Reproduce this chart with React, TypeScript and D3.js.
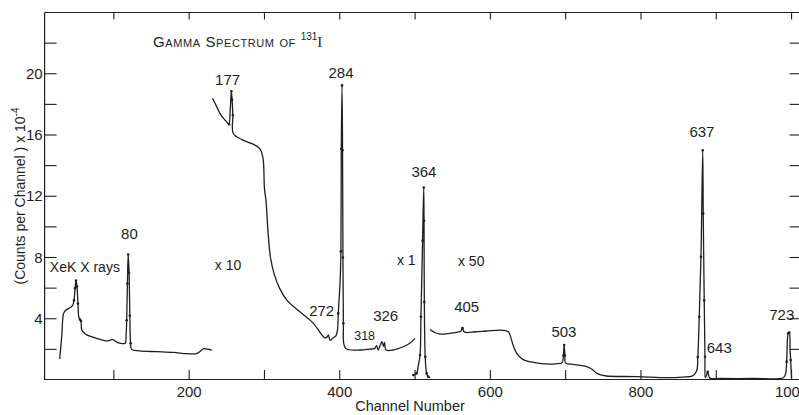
import React from 'react';
import * as d3 from 'd3';

// traced spectrum, [channel, counts x 1e-4] (each piece drawn at its own gain)
const xeKSegment: [number, number][] = [
  [28, 1.37], [31, 3.0], [33, 4.3], [36, 4.55], [41, 4.7], [45, 4.85], [47, 5.2], [48.5, 6.0],
  [49.7, 6.5], [51, 6.1], [52.3, 5.0], [53.5, 4.1], [55, 3.95], [56.3, 3.85], [57.2, 3.3], [60, 3.1],
  [64, 2.95], [72, 2.8], [81.5, 2.65], [90, 2.55], [95, 2.6], [99, 2.63], [103, 2.5], [106, 2.43],
  [112, 2.38], [115, 2.4], [116.3, 3.0], [117, 3.9], [118, 6.3], [119, 8.2], [120.2, 7.0],
  [121.2, 4.2], [122.2, 2.4], [123.6, 2.0], [134, 1.9], [157, 1.85], [179, 1.8], [197, 1.72],
  [210, 1.72], [214, 1.85], [219, 2.05], [223, 2.02], [230, 1.96],
];

const x10Segment: [number, number][] = [
  [231, 18.4], [236, 17.9], [241, 17.4], [247, 17.0], [252, 16.75], [253, 16.7], [254.5, 17.6],
  [256, 18.85], [257, 18.3], [258, 17.3], [258.6, 16.1], [270, 15.7], [285, 15.4], [294, 15.1],
  [298, 14.5], [300, 12.5], [302, 11.7], [305, 9.5], [308, 8.0], [313, 6.9], [320, 6.0],
  [330, 5.2], [347, 4.45], [365, 3.7], [380, 2.75], [383, 2.8], [385, 2.95], [387, 2.6],
  [391, 2.75], [395, 2.9], [397, 3.3], [398, 4.35], [400.5, 6.5], [401.5, 8.4], [402, 15.1],
  [403, 19.24], [403.7, 15.0], [404.2, 8.0], [404.8, 3.7], [405.6, 2.3], [409, 2.02], [427, 1.96],
  [440, 2.02], [446, 2.05], [449, 2.25], [451, 1.96], [454, 2.3], [456, 2.5], [458, 2.2],
  [459.5, 2.45], [461.5, 1.96], [471, 1.96], [484, 2.17], [493, 2.4], [500, 2.72],
];

const x1Segment: [number, number][] = [
  [497.8, 0.33], [502, 0.43], [504, 0.87], [506.6, 1.63], [507.8, 4.13], [510, 9.1],
  [511.5, 12.57], [511.9, 10.4], [512.3, 5.1], [513.5, 1.52], [515.4, 0.43], [517.5, 0.22], [520, 0.15],
];

const x50Segment: [number, number][] = [
  [520, 3.3], [526, 3.1], [533, 3.0], [546, 3.05], [558, 3.15], [561, 3.2], [563, 3.4], [565, 3.15],
  [568.5, 3.1], [580, 3.15], [595, 3.2], [612, 3.26], [620, 3.22], [624, 3.15], [627, 2.8],
  [630, 2.3], [635, 1.74], [643, 1.35], [657, 1.15], [679, 1.04], [692, 1.08], [695.5, 1.15],
  [697, 1.6], [698, 2.28], [699, 1.6], [700, 1.1], [710, 1.02], [720, 0.95], [728, 0.87],
  [735, 0.7], [741, 0.45], [748, 0.32], [754, 0.26], [794, 0.22], [838, 0.15], [860, 0.2],
  [869, 0.28], [874, 0.6], [875.5, 1.5], [877.4, 4.13], [879.7, 8.04], [882, 15.0], [882.7, 10.87],
  [884, 5.2], [885, 1.52], [885.5, 0.15], [887, 0.3], [888.6, 0.54], [890, 0.3], [891.6, 0.12],
  [905, 0.1], [950, 0.1], [989, 0.15], [992, 0.4], [993.5, 1.2], [995.6, 3.05], [997, 3.1],
  [998, 2.0], [998.8, 1.3], [1000, 0.1],
];

const segments = [xeKSegment, x10Segment, x1Segment, x50Segment];

// measured points shown as dots on the peaks
const dotPoints: [number, number][] = [
  [47, 5.2], [48.5, 6.0], [49.7, 6.5], [51, 6.1], [52.3, 5.0], [55, 3.95], [56.3, 3.85],
  [117, 3.9], [118, 6.3], [119, 8.2], [120.2, 7.0], [121.2, 4.2], [122.2, 2.4],
  [253, 16.7], [256, 18.85], [257, 18.3], [258, 17.3],
  [398, 4.35], [401.5, 8.4], [402, 15.1], [403, 19.24], [403.7, 15.0], [404.2, 8.0], [404.8, 3.7],
  [497.8, 0.33], [502, 0.43], [506.6, 1.63], [507.8, 4.13], [510, 9.1], [511.5, 12.57],
  [511.9, 10.4], [512.3, 5.1], [513.5, 1.52], [515.4, 0.43], [517.5, 0.22],
  [563, 3.4], [698, 2.28], [697, 1.6], [699, 1.6],
  [875.5, 1.5], [877.4, 4.13], [879.7, 8.04], [882, 15.0], [882.7, 10.87], [884, 5.2], [885, 1.52],
  [888.6, 0.54], [993.5, 1.2], [995.6, 3.05], [997, 3.1], [998.8, 1.3],
];

const peakLabels = [
  { text: '177', ch: 251, val: 19.24, anchor: 'middle', size: 15 },
  { text: '284', ch: 401.6, val: 19.7, anchor: 'middle', size: 15 },
  { text: '364', ch: 511.8, val: 13.26, anchor: 'middle', size: 15 },
  { text: '637', ch: 881, val: 15.87, anchor: 'middle', size: 15 },
  { text: '80', ch: 120.7, val: 9.24, anchor: 'middle', size: 15 },
  { text: '272', ch: 376, val: 4.2, anchor: 'middle', size: 15 },
  { text: '318', ch: 433, val: 2.6, anchor: 'middle', size: 12.5 },
  { text: '326', ch: 461, val: 3.85, anchor: 'middle', size: 15 },
  { text: '405', ch: 568.5, val: 4.42, anchor: 'middle', size: 15 },
  { text: '503', ch: 697.7, val: 2.83, anchor: 'middle', size: 15 },
  { text: '643', ch: 904, val: 1.74, anchor: 'middle', size: 15 },
  { text: '723', ch: 987, val: 3.9, anchor: 'middle', size: 15 },
  { text: 'XeK X rays', ch: 15, val: 7.07, anchor: 'start', size: 14 },
  { text: 'x 10', ch: 234, val: 7.18, anchor: 'start', size: 14 },
  { text: 'x 1', ch: 476, val: 7.5, anchor: 'start', size: 14 },
  { text: 'x 50', ch: 557, val: 7.44, anchor: 'start', size: 14 },
];

const xTicks = [100, 200, 300, 400, 500, 600, 700, 800, 900, 1000];
const xTickLabels = [200, 400, 600, 800, 1000];
const yTicks = [2, 4, 6, 8, 10, 12, 14, 16, 18, 20, 22];
const yTickLabels = [4, 8, 12, 16, 20];

const W = 799;
const H = 415;
const ink = '#1e1e1e';
const font = '"Liberation Sans", Arial, sans-serif';

export default function App() {
  const x = d3.scaleLinear().domain([8, 1012]).range([44.6, 800.6]);
  const y = d3.scaleLinear().domain([0, 24]).range([380, 12.5]);

  const line = d3.line<[number, number]>()
    .x(d => x(d[0]))
    .y(d => y(d[1]))
    .curve(d3.curveCatmullRom.alpha(0.5));

  const left = x(8);
  const right = x(1012);
  const top = y(24);
  const bottom = y(0);

  return (
    <svg width={W} height={H} style={{ position: 'absolute', left: 0, top: 0, background: '#fff' }}
      fontFamily={font}>
      {/* frame */}
      <line x1={left} x2={W} y1={top} y2={top} stroke={ink} strokeWidth={1.2} />
      <line x1={left} x2={W} y1={bottom - 0.5} y2={bottom - 0.5} stroke={ink} strokeWidth={1.2} />
      <line x1={left} x2={left} y1={top} y2={bottom} stroke={ink} strokeWidth={1.2} />

      {xTicks.map(t => (
        <g key={'xt' + t}>
          <line x1={x(t)} x2={x(t)} y1={top} y2={top + 7} stroke={ink} strokeWidth={1.1} />
          <line x1={x(t)} x2={x(t)} y1={bottom} y2={bottom - 10} stroke={ink} strokeWidth={1.1} />
        </g>
      ))}
      {xTickLabels.map(t => (
        <text key={'xl' + t} x={x(t)} y={bottom + 17} textAnchor="middle" fontSize={15} fill={ink}>{t}</text>
      ))}

      {yTicks.map(t => (
        <g key={'yt' + t}>
          <line x1={left} x2={left + 12} y1={y(t)} y2={y(t)} stroke={ink} strokeWidth={1.1} />
          <line x1={right - 11} x2={right} y1={y(t)} y2={y(t)} stroke={ink} strokeWidth={1.1} />
        </g>
      ))}
      {yTickLabels.map(t => (
        <text key={'yl' + t} x={left - 2} y={y(t) + 5} textAnchor="end" fontSize={15} fill={ink}>{t}</text>
      ))}

      {/* axis titles */}
      <text x={410} y={411} textAnchor="middle" fontSize={14.5} fill={ink}>Channel Number</text>
      <text transform="translate(25,196) rotate(-90)" textAnchor="middle" fontSize={14} fill={ink}>
        (Counts per Channel ) x 10<tspan fontSize={10} dy={-6}>-4</tspan>
      </text>

      {/* title */}
      <text x={153} y={47} fontSize={15} fill={ink} letterSpacing={0.6} style={{ fontVariant: 'small-caps' }}>
        Gamma Spectrum of <tspan fontSize={10} dy={-7} letterSpacing={0}>131</tspan>
        <tspan dy={7} fontFamily='"Liberation Serif", serif'>I</tspan>
      </text>

      {/* spectrum */}
      {segments.map((s, i) => (
        <path key={'s' + i} d={line(s) || ''} fill="none" stroke={ink} strokeWidth={1.3} strokeLinejoin="round" />
      ))}
      {dotPoints.map((d, i) => (
        <circle key={'d' + i} cx={x(d[0])} cy={y(d[1])} r={1.3} fill={ink} />
      ))}

      {peakLabels.map(l => (
        <text key={l.text} x={x(l.ch)} y={y(l.val)} textAnchor={l.anchor} fontSize={l.size} fill={ink}>{l.text}</text>
      ))}
    </svg>
  );
}
